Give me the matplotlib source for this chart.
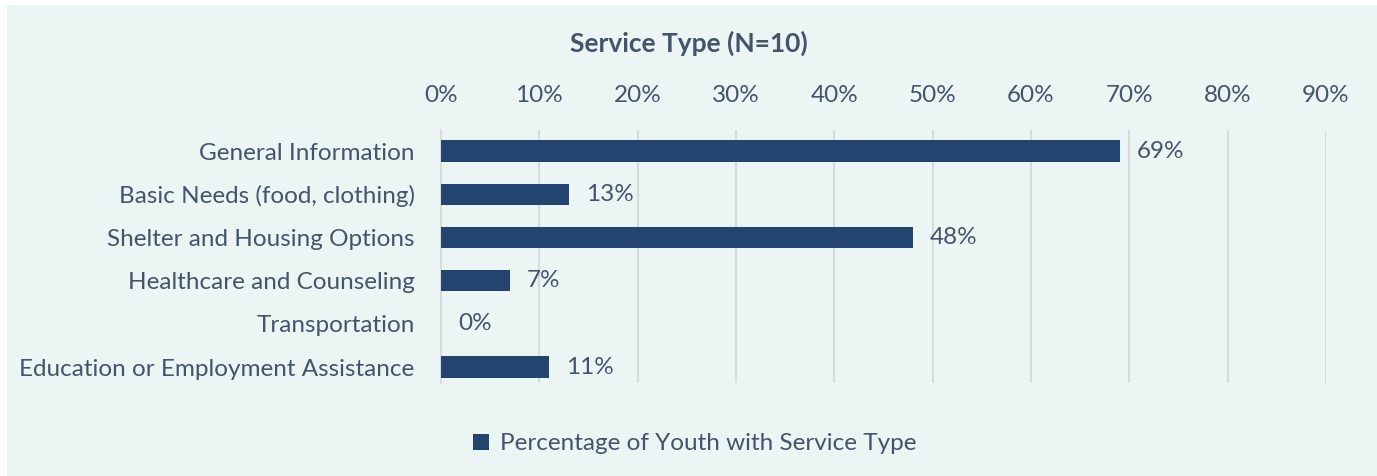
import matplotlib
matplotlib.use("Agg")
import matplotlib.pyplot as plt
from matplotlib.patches import Rectangle, Patch
from matplotlib.ticker import FuncFormatter

categories = [
    "General Information",
    "Basic Needs (food, clothing)",
    "Shelter and Housing Options",
    "Healthcare and Counseling",
    "Transportation",
    "Education or Employment Assistance",
]
values = [0.69, 0.13, 0.48, 0.07, 0.00, 0.11]
x_ticks = [0.0, 0.1, 0.2, 0.3, 0.4, 0.5, 0.6, 0.7, 0.8, 0.9]
title = "Service Type (N=10)"
series_name = "Percentage of Youth with Service Type"

BG = "#EBF5F4"
BAR = "#23446F"
TEXT = "#44546A"
GRID = "#D6DBDB"
FONT = ["Lato", "DejaVu Sans"]
FS = 17.5

plt.rcParams["font.family"] = FONT

W, H = 1377, 476
fig = plt.figure(figsize=(W / 100, H / 100), dpi=100, facecolor="white")
fig.patches.append(Rectangle((7 / W, 0), 1 - 7 / W, 1 - 5 / H,
                             transform=fig.transFigure, facecolor=BG,
                             edgecolor="none", zorder=-10))

ax = fig.add_axes([441 / W, 1 - 383 / H, (1326 - 441) / W, (383 - 130) / H])
ax.set_facecolor("none")

y = list(range(len(categories)))
ax.barh(y, values, height=0.5, color=BAR, zorder=3)

ax.set_xlim(0, 0.9)
ax.set_ylim(5.37, -0.49)
ax.set_xticks(x_ticks)
ax.xaxis.set_major_formatter(FuncFormatter(lambda v, p: f"{v * 100:.0f}%"))
ax.xaxis.tick_top()
ax.tick_params(axis="x", length=0, pad=17, labelsize=FS, labelcolor=TEXT)
ax.set_yticks(y)
ax.set_yticklabels(categories)
ax.tick_params(axis="y", length=0, pad=19, labelsize=FS, labelcolor=TEXT)

ax.grid(axis="x", color=GRID, linewidth=1.5, zorder=0)
for s in ["top", "right", "bottom"]:
    ax.spines[s].set_visible(False)
ax.spines["left"].set_color(GRID)
ax.spines["left"].set_linewidth(1.5)

for yi, v in zip(y, values):
    ax.annotate(f"{v * 100:.0f}%", xy=(v, yi), xytext=(17, 0),
                textcoords="offset pixels",
                va="center", ha="left", fontsize=FS, color=TEXT)

fig.text(689 / W, 1 - 43 / H, title, ha="center", va="center",
         fontsize=19, fontweight="bold", color=TEXT)

handle = Patch(facecolor=BAR, edgecolor="none")
fig.legend([handle], [series_name], loc="center", bbox_to_anchor=(695 / W, 1 - 444 / H),
           frameon=False, fontsize=FS, labelcolor=TEXT, handlelength=0.65,
           handleheight=0.65, handletextpad=0.45)

fig.savefig("out.png", dpi=100, facecolor="white")
